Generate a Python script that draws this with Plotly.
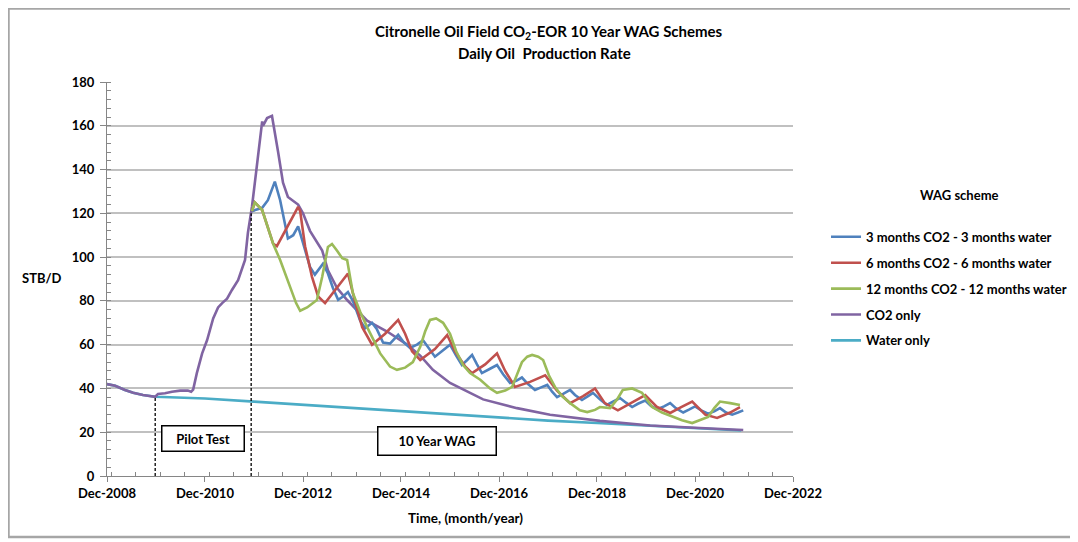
import plotly.graph_objects as go
import pandas as pd

# ---------------- data (x in months after Dec-2008) ----------------
START = "2008-12-01"

water_m = [0, 2.0, 4.4, 6.4, 8.8, 11.8, 15.4, 24.0, 36.0, 48.0, 60.0, 72.0, 84.0, 96.0,
           108.0, 120.0, 132.0, 144.0, 155.3]
water_v = [42, 41.2, 39.3, 38, 37, 36.2, 36, 35.4, 34, 32.5, 31, 29.5, 28, 26.6,
           25.3, 24.2, 23, 21.9, 20.8]

co2_m = [0, 2.0, 4.4, 6.4, 8.8, 11.8, 12.5, 14.2, 15.9, 17.9, 19.8, 20.6, 21.1, 22.0, 23.3,
         24.5, 26.0, 27.2, 28.2, 29.4, 30.6, 32.1, 33.8, 34.5, 35.5, 36.7, 38.0, 38.2, 39.2,
         40.4, 41.1, 41.9, 43.1, 44.3, 46.8, 48.0, 49.7, 52.7, 54.1, 56.3, 58.8, 63.7, 68.6,
         73.5, 76.7, 79.8, 84.0, 92.1, 100.4, 108.5, 120.7, 133.0, 145.2, 155.8]
co2_v = [42, 41.2, 39.3, 38, 37, 36.2, 37.5, 37.8, 38.5, 39, 39, 38.5, 39.5, 47, 56,
         62, 72, 77, 79, 81, 85, 89.5, 98.7, 111, 123, 141, 162, 160, 163.5,
         164.5, 156, 148, 134, 127.5, 124, 120, 112, 103, 94, 86, 80.4, 71, 66,
         60, 55, 48.5, 42.5, 35, 31, 28, 25.2, 23.1, 21.9, 21]

wag3_m = [35.5, 38.0, 39.4, 41.1, 42.4, 43.6, 44.3, 45.6, 46.8, 48.0, 49.7, 50.9, 52.2, 52.9,
          54.1, 55.3, 56.6, 57.8, 59.0, 60.2, 62.0, 63.2, 64.9, 66.1, 67.6, 69.3, 71.3, 72.7,
          74.2, 75.9, 77.4, 78.9, 80.3, 82.3, 84.0, 85.5, 86.9, 88.2, 89.4, 90.6, 91.8, 93.8,
          95.5, 97.0, 98.7, 100.2, 101.6, 103.1, 104.8, 106.3, 107.8, 109.0, 110.2, 111.7,
          113.4, 114.6, 116.3, 117.8, 119.0, 120.7, 122.4, 123.9, 125.6, 127.1, 128.6, 130.0,
          131.8, 133.2, 134.7, 136.4, 137.9, 139.3, 141.1, 142.5, 144.0, 145.5, 147.2, 148.7,
          150.1, 151.6, 153.1, 154.5, 155.8]
wag3_v = [121, 122.5, 126, 134.5, 126, 114, 108.5, 110, 114, 106.5, 95.5, 92, 95, 97,
          92.5, 86, 80.5, 82, 84, 80, 71, 67.5, 70, 67, 61, 60.5, 64.5, 61,
          58.5, 60, 62, 58, 54.5, 57.5, 60, 55, 50.7, 53, 55.3, 51, 47, 49,
          50.7, 46.5, 42.5, 43.5, 45, 42, 39.3, 40.5, 41.6, 38.5, 36, 37.5,
          39.3, 37, 34.7, 36.5, 38, 35, 32.5, 34, 35.6, 33.5, 31.5, 33,
          34.5, 32, 30.5, 31.8, 33.3, 31, 29, 30.3, 31.8, 30, 28.5, 29.5,
          31, 29, 28, 29, 30]

wag6_m = [35.5, 36.2, 38.0, 39.4, 40.7, 41.6, 44.3, 46.8, 47.3, 48.5, 50.2, 51.7, 53.4, 55.8,
          59.0, 60.7, 62.5, 64.9, 68.1, 71.3, 73.0, 74.7, 76.7, 80.3, 83.3, 85.2, 87.7, 89.4,
          92.6, 95.5, 97.5, 99.9, 103.6, 107.3, 110.2, 113.4, 116.6, 119.5, 121.9, 125.1,
          128.6, 131.8, 134.7, 137.9, 140.6, 143.3, 146.5, 149.4, 152.6, 155.0]
wag6_v = [121, 125, 121.5, 113, 106, 105, 114, 123, 121, 105, 91, 82, 79, 85,
          92.5, 80, 68, 60, 65, 71.3, 65, 57, 53, 58, 64.4, 57, 50, 47,
          51, 56, 48, 40.7, 43, 46, 39, 33.3, 36.5, 40, 33.3, 30,
          33.5, 37, 31.5, 28.8, 31.5, 34, 28, 26.5, 29, 31.5]

wag12_m = [35.5, 36.2, 38.0, 39.4, 40.7, 42.4, 44.8, 46.3, 47.3, 49.0, 51.4, 52.7, 54.1, 55.1,
           56.3, 57.6, 58.8, 60.2, 62.0, 63.7, 66.9, 69.3, 71.0, 73.0, 74.9, 76.7, 77.9, 79.1,
           80.6, 82.3, 84.0, 85.5, 87.2, 88.9, 91.4, 93.8, 95.5, 97.5, 99.2, 100.4, 101.6, 102.9,
           104.1, 105.6, 106.8, 108.2, 109.7, 111.4, 113.4, 115.8, 117.6, 119.5, 120.7, 123.2,
           124.9, 126.3, 128.6, 131.0, 132.3, 133.5, 135.9, 138.6, 140.8, 143.3, 145.2, 147.2,
           148.7, 150.1, 152.6, 155.0]
wag12_v = [121, 125, 121.5, 113, 106, 98.7, 86, 79, 75.5, 77, 80.4, 91, 104.6, 106,
           103, 99.5, 98.7, 83.6, 75, 68, 56, 50, 48.5, 49.5, 52, 59, 66, 71.3,
           72, 70, 65, 57, 50.7, 47, 44, 40, 38, 39, 40.7, 46, 52, 54.5,
           55.3, 54.5, 53, 46, 40.7, 36.5, 33.3, 30, 29.2, 30.2, 31.5, 31,
           35, 39.3, 40, 38, 34.5, 31.5, 29, 27, 25.5, 24.2, 25.5, 27,
           31, 34, 33.3, 32.4]

series_names = ["3 months CO2 - 3 months water", "6 months CO2 - 6 months water",
                "12 months CO2 - 12 months water", "CO2 only", "Water only"]
series_colors = ["#4F81BD", "#C0504D", "#9BBB59", "#8064A2", "#4BACC6"]

pilot_start_m, pilot_line_top = 11.8, 36.5
wag_start_m, wag_line_top = 35.3, 120
pilot_label_m, pilot_label_v = 23.4, 17
wag_label_m, wag_label_v = 80.9, 15.8

y_ticks = [0, 20, 40, 60, 80, 100, 120, 140, 160, 180]


def to_date(months):
    base = pd.Timestamp(START)
    return [base + pd.Timedelta(days=m * 365.25 / 12) for m in months]


FONT = "Lato"
fig = go.Figure()
series = [(wag3_m, wag3_v), (wag6_m, wag6_v), (wag12_m, wag12_v), (co2_m, co2_v), (water_m, water_v)]
draw_order = [4, 3, 0, 1, 2]
for i in draw_order:
    m, v = series[i]
    fig.add_trace(go.Scatter(x=to_date(m), y=v, mode="lines", name=series_names[i],
                             line=dict(color=series_colors[i], width=2.6),
                             legendgroup=str(i), legendrank=i + 1))

fig.add_shape(type="line", x0=to_date([pilot_start_m])[0], x1=to_date([pilot_start_m])[0],
              y0=0, y1=pilot_line_top, line=dict(color="black", width=1.3, dash="3px,2px"))
fig.add_shape(type="line", x0=to_date([wag_start_m])[0], x1=to_date([wag_start_m])[0],
              y0=0, y1=wag_line_top, line=dict(color="black", width=1.3, dash="3px,2px"))

fig.add_annotation(x=to_date([pilot_label_m])[0], y=pilot_label_v, text="<b>Pilot Test</b>",
                   showarrow=False, font=dict(family=FONT, size=13, color="black"),
                   bordercolor="black", borderwidth=1.5, bgcolor="white",
                   width=79, height=22, align="center", xanchor="center", yanchor="middle")
fig.add_annotation(x=to_date([wag_label_m])[0], y=wag_label_v, text="<b>10 Year WAG</b>",
                   showarrow=False, font=dict(family=FONT, size=13, color="black"),
                   bordercolor="black", borderwidth=1.5, bgcolor="white",
                   width=115, height=25, align="center", xanchor="center", yanchor="middle")

# titles
fig.add_annotation(xref="paper", yref="paper", x=0.644, y=1.1269, xanchor="center", yanchor="middle",
                   text="<b>Citronelle Oil Field CO<sub>2</sub>-EOR 10 Year WAG Schemes</b>",
                   showarrow=False, font=dict(family=FONT, size=15, color="black"))
fig.add_annotation(xref="paper", yref="paper", x=0.638, y=1.0736, xanchor="center", yanchor="middle",
                   text="<b>Daily Oil&nbsp; Production Rate</b>",
                   showarrow=False, font=dict(family=FONT, size=15, color="black"))
fig.add_annotation(xref="paper", yref="paper", x=-0.0948, y=0.5025, xanchor="center", yanchor="middle",
                   text="<b>STB/D</b>",
                   showarrow=False, font=dict(family=FONT, size=13, color="black"))
fig.add_annotation(xref="paper", yref="paper", x=0.522, y=-0.1066, xanchor="center", yanchor="middle",
                   text="<b>Time, (month/year)</b>",
                   showarrow=False, font=dict(family=FONT, size=13.5, color="black"))
fig.add_annotation(xref="paper", yref="paper", x=1.2434, y=0.7132, xanchor="center", yanchor="middle",
                   text="<b>WAG scheme</b>",
                   showarrow=False, font=dict(family=FONT, size=13, color="black"))

# outer frame
fig.add_shape(type="rect", xref="paper", yref="paper", x0=-0.1436, x1=1.4067, y0=-0.1548, y1=1.1866,
              line=dict(color="#A6A6A6", width=2.5))

# page body has an 8px default margin, so the figure sits 8px right/down in the window
fig.update_layout(
    width=1070, height=534,
    margin=dict(l=99, r=285, t=74, b=66, autoexpand=False),
    plot_bgcolor="white", paper_bgcolor="white",
    font=dict(family=FONT, color="black"),
    showlegend=True,
    legend=dict(xref="container", x=0.7645, y=0.645, xanchor="left", yanchor="top",
                font=dict(family=FONT, size=13, color="black", weight="bold"),
                traceorder="grouped", tracegroupgap=6, itemwidth=30,
                bgcolor="rgba(0,0,0,0)"),
    xaxis=dict(type="date", range=[pd.Timestamp(START), pd.Timestamp("2022-12-01")],
               tick0=START, dtick="M24", tickformat="%b-%Y",
               tickfont=dict(family=FONT, size=13, color="black", weight="bold"),
               showgrid=False, zeroline=False, showline=True, linecolor="#868686", linewidth=1.3,
               ticks="outside", ticklen=5, tickcolor="#868686",
               minor=dict(dtick="M6", ticks="inside", ticklen=4, tickcolor="#868686")),
    yaxis=dict(range=[0, 180], tickvals=y_ticks,
               tickfont=dict(family=FONT, size=13, color="black", weight="bold"),
               showgrid=True, gridcolor="#C0C0C0", gridwidth=1.5, zeroline=False,
               showline=True, linecolor="#868686", linewidth=1.3,
               ticks="outside", ticklen=6, tickcolor="#868686", ticklabelstandoff=3,
               minor=dict(dtick=4, tick0=0, ticks="inside", ticklen=4, tickcolor="#868686",
                          showgrid=False)),
)

fig.write_html("out.html")
